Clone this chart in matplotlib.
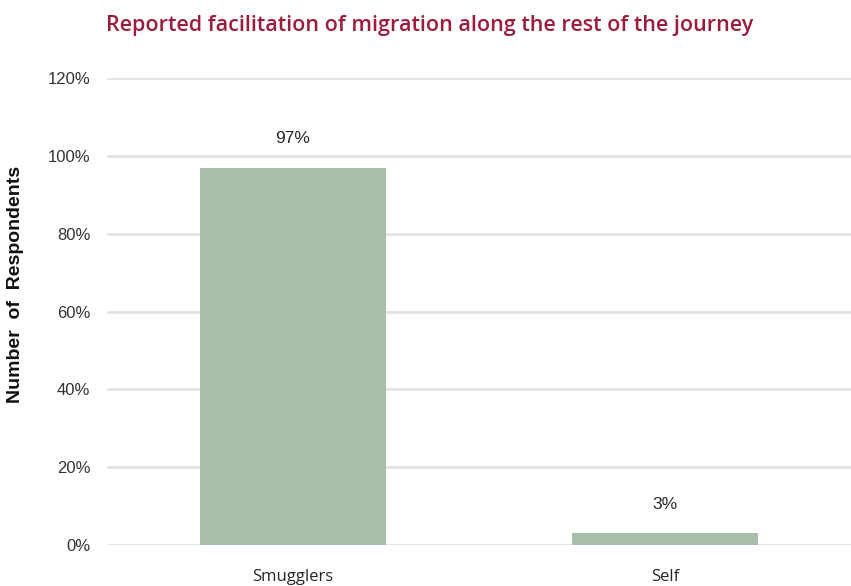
import matplotlib
matplotlib.use("Agg")
import matplotlib.pyplot as plt
from matplotlib.ticker import FuncFormatter

categories = ["Smugglers", "Self"]
values = [0.97, 0.03]
labels = ["97%", "3%"]
yticks = [0, 0.2, 0.4, 0.6, 0.8, 1.0, 1.2]

fig = plt.figure(figsize=(8.51, 5.86), dpi=100)
ax = fig.add_axes([107/851, 41/586, 1 - 107/851, 467/586])

ax.bar(range(len(categories)), values, width=0.5, color="#a7bea8", zorder=3)
for i, v in enumerate(values):
    ax.text(i, v + 0.055, labels[i], ha="center", va="bottom",
            fontsize=12.5, color="#262626", family="Liberation Sans")

ax.set_xlim(-0.5, 1.5)
ax.set_ylim(0, 1.2)
ax.set_yticks(yticks)
ax.yaxis.set_major_formatter(FuncFormatter(lambda y, p: f"{y*100:.0f}%"))
ax.grid(axis="y", color="#e2e2e2", linewidth=2, zorder=0)
ax.set_xticks(range(len(categories)))
ax.set_xticklabels(categories, family="Open Sans", fontsize=12, color="#262626")
for t in ax.get_yticklabels():
    t.set_family("Liberation Sans")
    t.set_fontsize(12)
    t.set_color("#333333")
ax.tick_params(axis="y", length=0, pad=12)
ax.tick_params(axis="x", length=0, pad=17)
for s in ax.spines.values():
    s.set_visible(False)

fig.text(16/851, 1 - 284/586, "Number  of  Respondents", rotation=90,
         ha="center", va="center", family="Liberation Sans", fontweight="bold",
         fontsize=14, color="#111111")

fig.text(0.505, 0.957, "Reported facilitation of migration along the rest of the journey",
         ha="center", va="center", fontsize=15.5, color="#9c1c3c", family="Open Sans",
         fontweight="semibold")

fig.savefig("out.png", dpi=100)
